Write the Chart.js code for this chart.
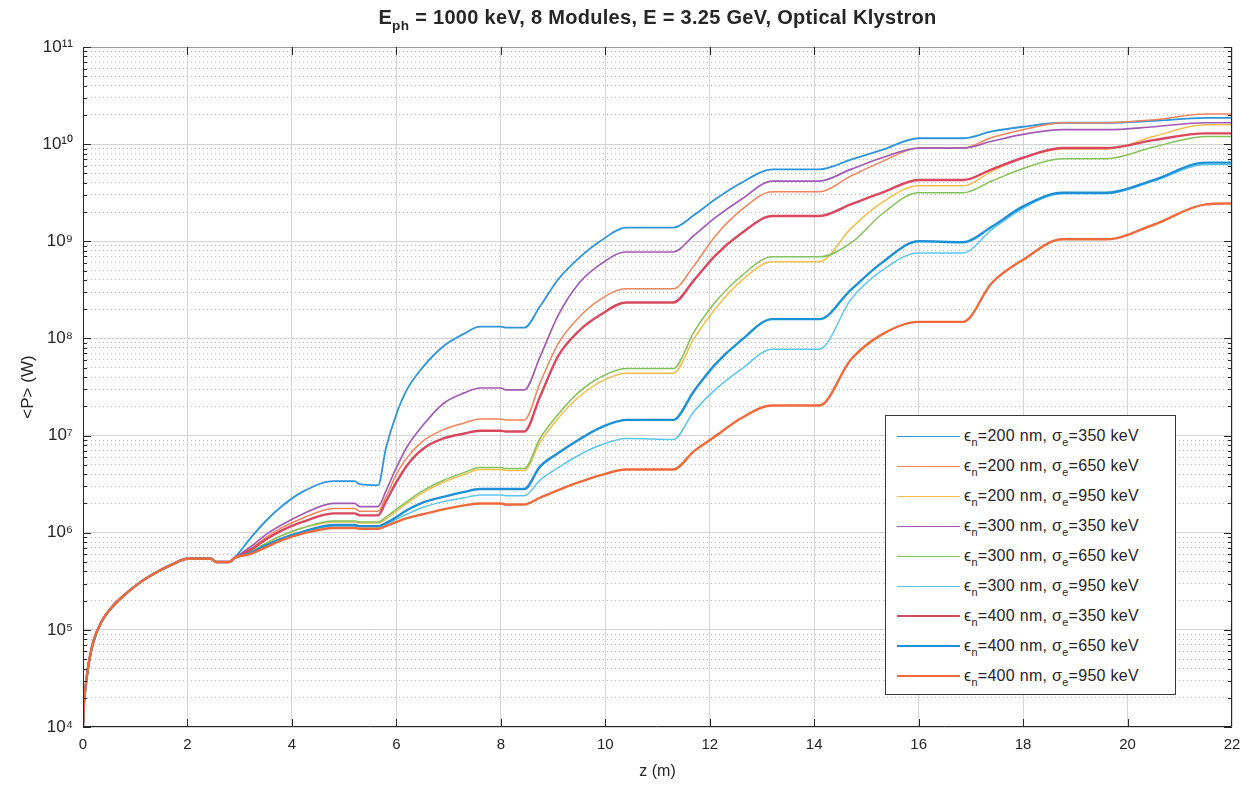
<!DOCTYPE html>
<html>
<head>
<meta charset="utf-8">
<script src="https://cdn.jsdelivr.net/npm/chart.js@4.4.1/dist/chart.umd.min.js"></script>
<style>
  body { margin: 0; background: #fff; font-family: "Liberation Sans", Arial, sans-serif; }
  #wrap { position: relative; width: 1252px; height: 785px; }
  #title { position: absolute; left: 83px; width: 1149px; top: 6px; text-align: center;
           font-weight: bold; font-size: 20px; color: #262626; letter-spacing: 0.3px; }
  #legend { position: absolute; left: 885px; top: 415px; width: 291px; height: 280px;
            border: 1px solid #3a3a3a; background: #fff; box-sizing: border-box; padding-top: 5px; }
  .item { height: 30px; display: flex; align-items: center; font-size: 16px; color: #262626;
          white-space: nowrap; letter-spacing: 0.3px; }
  .swatch { display: inline-block; width: 63px; height: 0; margin-left: 11px; margin-right: 4px; }
  sub { vertical-align: baseline; position: relative; top: 0.45em; font-size: 0.68em; line-height: 0; }
</style>
</head>
<body>
<div id="wrap">
  <canvas id="chart" width="1252" height="785"></canvas>
  <div id="title">E<sub>ph</sub> = 1000 keV, 8 Modules, E = 3.25 GeV, Optical Klystron</div>
  <div id="legend"></div>
</div>
<script>
// first module, identical for every case
const zStart = [0, 0.02, 0.05, 0.1, 0.2, 0.35, 0.55, 0.8, 1.1, 1.4, 1.7, 2.0, 2.45, 2.55, 2.8, 2.9];
const pStart = [1.0e4, 1.8e4, 2.6e4, 4.2e4, 7.6e4, 1.2e5, 1.7e5, 2.3e5, 3.1e5, 3.9e5, 4.7e5, 5.4e5, 5.4e5, 5.0e5, 5.0e5, 5.5e5];

// modules 2..8 and the drifts between them
const zRest = [3.2, 3.5, 3.8, 4.2, 4.8, 5.2, 5.3, 5.65, 5.8, 6.0, 6.2, 6.5, 6.9, 7.3, 7.6, 8.0, 8.1, 8.45,
               8.75, 9.1, 9.5, 9.9, 10.4, 11.3, 11.7, 12.1, 12.6, 13.2, 14.1, 14.7, 15.3, 16.0, 16.85,
               17.4, 18.0, 18.75, 19.6, 20.5, 21.5, 22];

const p200_350 = [8.7e5, 1.32e6, 1.86e6, 2.63e6, 3.39e6, 3.39e6, 3.16e6, 3.09e6, 7.41e6, 1.66e7, 2.95e7, 5.01e7, 8.32e7, 1.12e8, 1.32e8, 1.32e8, 1.29e8, 1.29e8,
                  2.14e8, 4.07e8, 6.76e8, 1.0e9, 1.38e9, 1.38e9, 1.86e9, 2.69e9, 3.98e9, 5.5e9, 5.5e9, 6.92e9, 8.71e9, 1.15e10, 1.15e10,
                  1.35e10, 1.51e10, 1.66e10, 1.66e10, 1.74e10, 1.86e10, 1.86e10];
const p200_650 = [6.76e5, 8.91e5, 1.12e6, 1.41e6, 1.78e6, 1.78e6, 1.66e6, 1.66e6, 2.34e6, 3.98e6, 5.89e6, 8.71e6, 1.15e7, 1.35e7, 1.48e7, 1.48e7, 1.45e7, 1.45e7,
                  3.47e7, 8.91e7, 1.66e8, 2.51e8, 3.24e8, 3.24e8, 5.62e8, 1.12e9, 2.09e9, 3.24e9, 3.24e9, 4.68e9, 6.61e9, 9.12e9, 9.12e9,
                  1.17e10, 1.41e10, 1.66e10, 1.66e10, 1.78e10, 2.04e10, 2.04e10];
const p200_950 = [6.31e5, 7.76e5, 9.33e5, 1.12e6, 1.29e6, 1.29e6, 1.26e6, 1.26e6, 1.38e6, 1.66e6, 2.0e6, 2.57e6, 3.31e6, 3.98e6, 4.47e6, 4.47e6, 4.37e6, 4.37e6,
                  8.51e6, 1.51e7, 2.51e7, 3.55e7, 4.37e7, 4.37e7, 1.0e8, 2.0e8, 3.89e8, 6.17e8, 6.17e8, 1.35e9, 2.51e9, 3.72e9, 3.72e9,
                  5.25e9, 7.24e9, 8.91e9, 8.91e9, 1.2e10, 1.58e10, 1.58e10];
const p300_350 = [7.08e5, 9.55e5, 1.2e6, 1.55e6, 2.0e6, 2.0e6, 1.86e6, 1.86e6, 2.69e6, 4.68e6, 7.59e6, 1.26e7, 2.14e7, 2.75e7, 3.09e7, 3.09e7, 2.95e7, 2.95e7,
                  6.46e7, 1.74e8, 3.72e8, 5.75e8, 7.76e8, 7.76e8, 1.15e9, 1.74e9, 2.69e9, 4.17e9, 4.17e9, 5.5e9, 7.24e9, 9.12e9, 9.12e9,
                  1.07e10, 1.26e10, 1.41e10, 1.41e10, 1.51e10, 1.66e10, 1.66e10];
const p300_650 = [6.31e5, 7.76e5, 9.33e5, 1.12e6, 1.32e6, 1.32e6, 1.29e6, 1.29e6, 1.45e6, 1.74e6, 2.09e6, 2.69e6, 3.47e6, 4.17e6, 4.68e6, 4.68e6, 4.57e6, 4.57e6,
                  9.33e6, 1.66e7, 2.82e7, 3.98e7, 4.9e7, 4.9e7, 1.17e8, 2.34e8, 4.37e8, 6.92e8, 6.92e8, 9.55e8, 1.91e9, 3.16e9, 3.16e9,
                  4.17e9, 5.62e9, 7.08e9, 7.08e9, 9.33e9, 1.2e10, 1.2e10];
const p300_950 = [6.17e5, 7.41e5, 8.71e5, 1.02e6, 1.17e6, 1.17e6, 1.15e6, 1.15e6, 1.23e6, 1.38e6, 1.55e6, 1.82e6, 2.09e6, 2.29e6, 2.45e6, 2.45e6, 2.4e6, 2.4e6,
                  3.47e6, 4.68e6, 6.31e6, 7.94e6, 9.33e6, 9.12e6, 1.78e7, 2.95e7, 4.79e7, 7.76e7, 7.76e7, 2.51e8, 5.01e8, 7.59e8, 7.59e8,
                  1.32e9, 2.19e9, 3.09e9, 3.09e9, 4.17e9, 6.17e9, 6.17e9];
const p400_350 = [6.61e5, 8.51e5, 1.05e6, 1.29e6, 1.58e6, 1.58e6, 1.51e6, 1.51e6, 2.09e6, 3.31e6, 4.9e6, 7.24e6, 9.33e6, 1.05e7, 1.12e7, 1.12e7, 1.1e7, 1.1e7,
                  2.51e7, 6.61e7, 1.2e8, 1.74e8, 2.34e8, 2.34e8, 3.98e8, 7.08e8, 1.2e9, 1.82e9, 1.82e9, 2.4e9, 3.16e9, 4.27e9, 4.27e9,
                  5.5e9, 7.24e9, 9.12e9, 9.12e9, 1.1e10, 1.29e10, 1.29e10];
const p400_650 = [6.17e5, 7.41e5, 8.71e5, 1.02e6, 1.2e6, 1.2e6, 1.17e6, 1.17e6, 1.26e6, 1.45e6, 1.7e6, 2.04e6, 2.34e6, 2.63e6, 2.82e6, 2.82e6, 2.82e6, 2.82e6,
                  4.79e6, 6.61e6, 9.12e6, 1.2e7, 1.45e7, 1.45e7, 2.88e7, 5.37e7, 9.55e7, 1.58e8, 1.58e8, 3.16e8, 6.03e8, 1.0e9, 9.77e8,
                  1.41e9, 2.29e9, 3.16e9, 3.16e9, 4.27e9, 6.46e9, 6.46e9];
const p400_950 = [6.03e5, 7.08e5, 8.32e5, 9.77e5, 1.12e6, 1.12e6, 1.1e6, 1.1e6, 1.17e6, 1.29e6, 1.41e6, 1.55e6, 1.74e6, 1.91e6, 2.0e6, 2.0e6, 1.95e6, 1.95e6,
                  2.29e6, 2.75e6, 3.31e6, 3.89e6, 4.47e6, 4.47e6, 6.92e6, 9.77e6, 1.51e7, 2.04e7, 2.04e7, 6.03e7, 1.1e8, 1.48e8, 1.48e8,
                  3.72e8, 6.46e8, 1.05e9, 1.05e9, 1.48e9, 2.4e9, 2.45e9];

const emittance = [200, 200, 200, 300, 300, 300, 400, 400, 400];   // nm
const spread = [350, 650, 950, 350, 650, 950, 350, 650, 950];       // keV
const series = [p200_350, p200_650, p200_950, p300_350, p300_650, p300_950, p400_350, p400_650, p400_950];
const colors = ['#2F95DA', '#F2845C', '#F5BC50', '#A25BB5', '#84C25A', '#5CC5EC', '#D9485F', '#1E90D6', '#EE6A3A'];
const widths = [1.8, 1.5, 1.5, 1.7, 1.5, 1.5, 2.4, 2.4, 2.4];

const yTickValues = [1e4, 1e5, 1e6, 1e7, 1e8, 1e9, 1e10, 1e11];
const yTickLabels = ['10⁴', '10⁵', '10⁶', '10⁷', '10⁸', '10⁹', '10¹⁰', '10¹¹'];
const yMinorValues = [];
yTickValues.slice(0, -1).forEach(function(d) {
    for (let k = 2; k <= 9; k++) yMinorValues.push(k * d);
});

const zAll = zStart.concat(zRest);
const datasets = series.map(function(vals, i) {
    const p = pStart.concat(vals);
    return {
        label: 'ϵn=' + emittance[i] + ' nm, σe=' + spread[i] + ' keV',
        data: zAll.map(function(z, j) { return { x: z, y: p[j] }; }),
        borderColor: colors[i],
        backgroundColor: colors[i],
        borderWidth: widths[i],
        pointRadius: 0,
        cubicInterpolationMode: 'monotone',
        order: series.length - i
    };
});

// box around the axes with inward ticks, like the original plot
const axesBox = {
    id: 'axesBox',
    afterDraw(chart) {
        const ctx = chart.ctx;
        const a = chart.chartArea;
        const y = chart.scales.y, x = chart.scales.x;
        ctx.save();
        ctx.strokeStyle = '#262626';
        ctx.lineWidth = 1;
        ctx.beginPath();
        ctx.moveTo(a.left + 0.5, a.top);
        ctx.lineTo(a.left + 0.5, a.bottom - 0.5);
        ctx.lineTo(a.right - 0.5, a.bottom - 0.5);
        ctx.lineTo(a.right - 0.5, a.top);
        ctx.stroke();
        ctx.strokeStyle = '#9a9a9a';
        ctx.beginPath();
        ctx.moveTo(a.left, a.top + 0.5);
        ctx.lineTo(a.right, a.top + 0.5);
        ctx.stroke();
        ctx.strokeStyle = '#262626';
        ctx.beginPath();
        yTickValues.forEach(function(v) {
            const py = Math.round(y.getPixelForValue(v)) + 0.5;
            ctx.moveTo(a.left, py); ctx.lineTo(a.left + 8, py);
            ctx.moveTo(a.right, py); ctx.lineTo(a.right - 8, py);
        });
        yMinorValues.forEach(function(v) {
            const py = Math.round(y.getPixelForValue(v)) + 0.5;
            ctx.moveTo(a.left, py); ctx.lineTo(a.left + 4, py);
            ctx.moveTo(a.right, py); ctx.lineTo(a.right - 4, py);
        });
        for (let z = 2; z < 22; z += 2) {
            const px = Math.round(x.getPixelForValue(z)) + 0.5;
            ctx.moveTo(px, a.bottom); ctx.lineTo(px, a.bottom - 8);
            ctx.moveTo(px, a.top); ctx.lineTo(px, a.top + 8);
        }
        ctx.stroke();
        ctx.restore();
    }
};

const chart = new Chart(document.getElementById('chart').getContext('2d'), {
    type: 'line',
    data: { datasets: datasets },
    options: {
        responsive: false,
        animation: false,
        layout: { padding: { left: 0, right: 20, top: 47, bottom: 0 } },
        plugins: {
            legend: { display: false },
            tooltip: { enabled: false }
        },
        scales: {
            x: {
                type: 'linear',
                min: 0,
                max: 22,
                ticks: {
                    stepSize: 2,
                    padding: 9,
                    color: '#262626',
                    font: { family: 'Liberation Sans', size: 15 }
                },
                grid: { color: '#d6d6d6', drawTicks: false },
                border: { display: false },
                title: {
                    display: true,
                    text: 'z (m)',
                    color: '#262626',
                    font: { family: 'Liberation Sans', size: 16 },
                    padding: { top: 0, bottom: 4 }
                },
                afterFit: function(scale) { scale.height = 58; }
            },
            y: {
                type: 'logarithmic',
                min: 1e4,
                max: 1e11,
                afterBuildTicks: function(scale) {
                    scale.ticks = yTickValues.map(function(v) { return { value: v, major: true }; });
                },
                ticks: {
                    padding: 10,
                    color: '#262626',
                    font: { family: 'Liberation Sans', size: 17 },
                    callback: function(value) {
                        return yTickLabels[Math.round(Math.log10(value)) - 4];
                    }
                },
                grid: { color: '#d3d3d3', drawTicks: false },
                border: { display: false },
                title: {
                    display: true,
                    text: '<P> (W)',
                    color: '#262626',
                    font: { family: 'Liberation Sans', size: 17 },
                    padding: { top: 18, bottom: 0 }
                },
                afterFit: function(scale) { scale.width = 83; }
            },
            yMinor: {
                type: 'logarithmic',
                position: 'right',
                min: 1e4,
                max: 1e11,
                afterBuildTicks: function(scale) {
                    scale.ticks = yMinorValues.map(function(v) { return { value: v }; });
                },
                ticks: { display: false },
                grid: { color: '#bdbdbd', drawTicks: false, lineWidth: 1 },
                border: { display: false, dash: [1, 3] },
                afterFit: function(scale) { scale.width = 0; }
            }
        }
    },
    plugins: [axesBox]
});

// legend with sub-scripted symbols, built from the datasets
const legendBox = document.getElementById('legend');
chart.data.datasets.forEach(function(ds, i) {
    const row = document.createElement('div');
    row.className = 'item';
    row.innerHTML = '<span class="swatch" style="border-top:' + ds.borderWidth + 'px solid ' + ds.borderColor + '"></span>' +
        '<span>ϵ<sub>n</sub>=' + emittance[i] + ' nm, σ<sub>e</sub>=' + spread[i] + ' keV</span>';
    legendBox.appendChild(row);
});
</script>
</body>
</html>
